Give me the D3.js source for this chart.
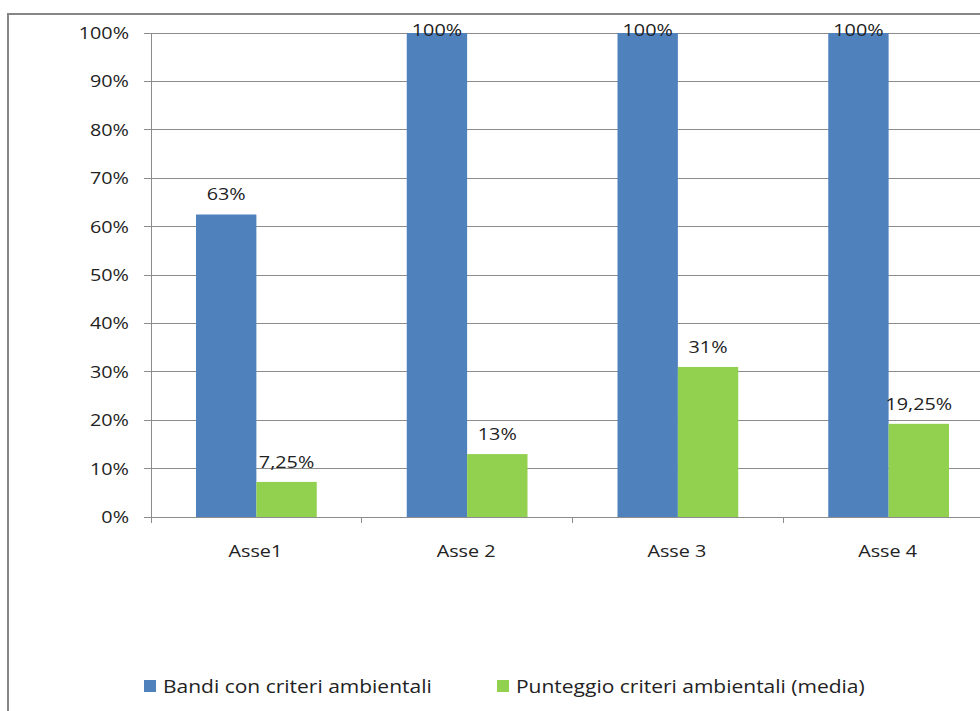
<!DOCTYPE html>
<html>
<head>
    <meta charset="UTF-8">
    <title>Criteri ambientali</title>
    <style>
        body { margin: 0; background: #fff; }
        text { font-family: "Open Sans", sans-serif; fill: #222; }
    </style>
</head>
<body>
    <div class="chartBox"></div>

    <script src="https://d3js.org/d3.v7.min.js"></script>
    <script>
        // data
        const categories = ["Asse1", "Asse 2", "Asse 3", "Asse 4"];
        const seriesNames = ["Bandi con criteri ambientali", "Punteggio criteri ambientali (media)"];
        const bandi = [0.625, 1.0, 1.0, 1.0];
        const punteggio = [0.0725, 0.13, 0.31, 0.1925];
        const bandiLabels = ["63%", "100%", "100%", "100%"];
        const punteggioLabels = ["7,25%", "13%", "31%", "19,25%"];
        const yTicks = [0, 0.1, 0.2, 0.3, 0.4, 0.5, 0.6, 0.7, 0.8, 0.9, 1.0];
        const colors = ["#4F81BD", "#92D050"];

        const width = 980, height = 711;
        const plot = { left: 151, right: 994, top: 33, bottom: 517 };
        const sx = 1.2; // text in the original is drawn wider than normal

        const svg = d3.select(".chartBox")
            .append("svg")
            .attr("width", width)
            .attr("height", height);

        // stretched text: x is given in page coordinates
        function wideText(sel, xf) {
            return sel.attr("x", (d, i) => xf(d, i) / sx)
                .attr("transform", `scale(${sx},1)`);
        }

        // outer frame (cut off on right and bottom)
        svg.append("rect")
            .attr("x", 8).attr("y", 14)
            .attr("width", 1100).attr("height", 900)
            .attr("fill", "none")
            .attr("stroke", "#868686")
            .attr("stroke-width", 2);

        // scales
        const x = d3.scaleBand()
            .domain(categories)
            .range([plot.left, plot.right]);

        const inner = d3.scaleBand()
            .domain([0, 1])
            .range([45, x.bandwidth() - 45]);

        const y = d3.scaleLinear()
            .domain([0, 1])
            .range([plot.bottom, plot.top]);

        // gridlines
        svg.append("g")
            .selectAll("line")
            .data(yTicks)
            .join("line")
            .attr("x1", plot.left - 7)
            .attr("x2", width)
            .attr("y1", d => y(d))
            .attr("y2", d => y(d))
            .attr("stroke", "#8c8c8c")
            .attr("shape-rendering", "crispEdges");

        // y-axis labels
        svg.append("g")
            .selectAll("text")
            .data(yTicks)
            .join("text")
            .call(wideText, () => plot.left - 22)
            .attr("y", d => y(d))
            .attr("dy", "0.36em")
            .attr("text-anchor", "end")
            .attr("font-size", 16.5)
            .text(d => Math.round(d * 100) + "%");

        // bars
        const groups = svg.append("g")
            .selectAll("g")
            .data(categories)
            .join("g")
            .attr("transform", d => `translate(${x(d)},0)`);

        groups.append("rect")
            .attr("x", inner(0))
            .attr("width", inner.bandwidth())
            .attr("y", (d, i) => y(bandi[i]))
            .attr("height", (d, i) => y(0) - y(bandi[i]))
            .attr("fill", colors[0]);

        groups.append("rect")
            .attr("x", inner(1))
            .attr("width", inner.bandwidth())
            .attr("y", (d, i) => y(punteggio[i]))
            .attr("height", (d, i) => y(0) - y(punteggio[i]))
            .attr("fill", colors[1]);

        // value labels
        const labelY = v => Math.max(y(v) - 14, plot.top + 3);

        groups.append("text")
            .call(wideText, () => inner(0) + inner.bandwidth() / 2)
            .attr("y", (d, i) => labelY(bandi[i]))
            .attr("text-anchor", "middle")
            .attr("font-size", 16.5)
            .text((d, i) => bandiLabels[i]);

        groups.append("text")
            .call(wideText, () => inner(1) + inner.bandwidth() / 2)
            .attr("y", (d, i) => labelY(punteggio[i]))
            .attr("text-anchor", "middle")
            .attr("font-size", 16.5)
            .text((d, i) => punteggioLabels[i]);

        // axis lines and category ticks
        svg.append("line")
            .attr("x1", plot.left).attr("x2", plot.left)
            .attr("y1", plot.top).attr("y2", plot.bottom + 6)
            .attr("stroke", "#8c8c8c")
            .attr("shape-rendering", "crispEdges");

        svg.append("line")
            .attr("x1", plot.left).attr("x2", width)
            .attr("y1", plot.bottom).attr("y2", plot.bottom)
            .attr("stroke", "#8c8c8c")
            .attr("shape-rendering", "crispEdges");

        svg.append("g")
            .selectAll("line")
            .data(categories.slice(1))
            .join("line")
            .attr("x1", d => x(d)).attr("x2", d => x(d))
            .attr("y1", plot.bottom).attr("y2", plot.bottom + 6)
            .attr("stroke", "#8c8c8c")
            .attr("shape-rendering", "crispEdges");

        // category labels
        svg.append("g")
            .selectAll("text")
            .data(categories)
            .join("text")
            .call(wideText, d => x(d) + x.bandwidth() / 2 - 1)
            .attr("y", 557)
            .attr("text-anchor", "middle")
            .attr("font-size", 16.5)
            .text(d => d);

        // legend
        const legendX = [144, 497];
        const legend = svg.append("g")
            .selectAll("g")
            .data(seriesNames)
            .join("g")
            .attr("transform", (d, i) => `translate(${legendX[i]},680)`);

        legend.append("rect")
            .attr("width", 12).attr("height", 12)
            .attr("fill", (d, i) => colors[i]);

        legend.append("text")
            .call(wideText, () => 19)
            .attr("y", 12.5)
            .attr("font-size", 17.5)
            .text(d => d);
    </script>
</body>
</html>
